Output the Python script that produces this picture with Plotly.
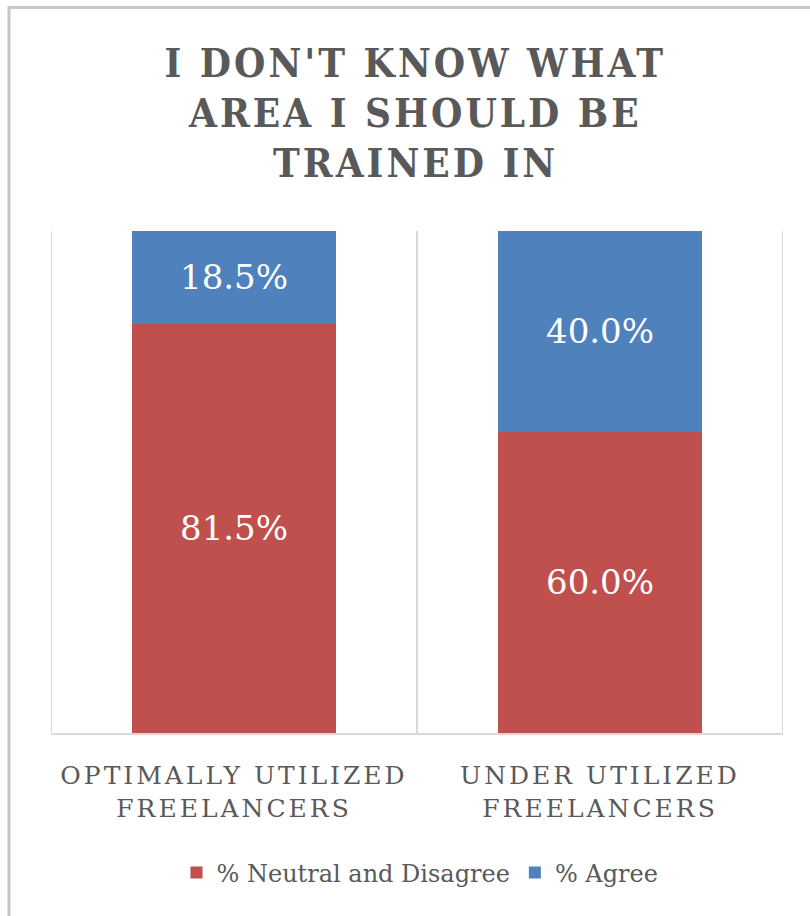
import plotly.graph_objects as go

# Survey responses: "I don't know what area I should be trained in"
categories = ["OPTIMALLY UTILIZED<br>FREELANCERS", "UNDER UTILIZED<br>FREELANCERS"]
neutral_disagree = [81.5, 60.0]
agree = [18.5, 40.0]
title_lines = ["I DON'T KNOW WHAT", "AREA I SHOULD BE", "TRAINED IN"]

RED = "#C0504D"
BLUE = "#4F81BD"
GREY_TEXT = "#595959"
GRID = "#D9D9D9"
SERIF = "DejaVu Serif, Liberation Serif, serif"
SERIF_COND = "DejaVu Serif Condensed, DejaVu Serif, serif"

W, H = 810, 916
M_L, M_R, M_T, M_B = 51, 27, 231, 183
PW, PH = W - M_L - M_R, H - M_T - M_B


def px_x(p):
    return (p - M_L) / PW


def px_y(p):
    return (H - M_B - p) / PH


fig = go.Figure()
for vals, name, color in [(neutral_disagree, "% Neutral and Disagree", RED),
                          (agree, "% Agree", BLUE)]:
    fig.add_trace(go.Bar(
        x=categories, y=vals, name=name,
        marker=dict(color=color, line=dict(width=0)),
        texttemplate="%{y:.1f}%", textposition="inside", insidetextanchor="middle",
        textfont=dict(family=SERIF, size=34, color="white"),
    ))

# Title, one annotation per line for tighter line spacing
for line, yc in zip(title_lines, [62, 112.5, 163]):
    fig.add_annotation(
        text=line, xref="paper", yref="paper", x=px_x(415), y=px_y(yc),
        xanchor="center", yanchor="middle", showarrow=False,
        font=dict(family=SERIF_COND, size=40, color=GREY_TEXT, weight="bold"),
    )

# Category separators at the outer edges of the plot area
for xb in (-0.5, 1.5):
    fig.add_shape(type="line", xref="x", yref="y domain", x0=xb, x1=xb, y0=0, y1=1,
                  line=dict(color=GRID, width=2), layer="below")

# Chart-area frame
fig.add_shape(
    type="rect", xref="paper", yref="paper",
    x0=px_x(9), x1=px_x(840), y0=px_y(950), y1=px_y(7.5),
    line=dict(color="#C8C8C8", width=3), fillcolor="rgba(0,0,0,0)", layer="below",
)

fig.update_layout(
    width=W, height=H,
    margin=dict(l=M_L, r=M_R, t=M_T, b=M_B, pad=0),
    barmode="stack", bargap=0.443,
    paper_bgcolor="white", plot_bgcolor="white",
    showlegend=True,
    legend=dict(
        orientation="h", x=px_x(420), xanchor="center", y=px_y(873), yanchor="middle",
        font=dict(family=SERIF, size=24, color=GREY_TEXT),
        traceorder="normal",
    ),
    xaxis=dict(
        type="category", range=[-0.5, 1.5],
        showline=True, linecolor=GRID, linewidth=2,
        showgrid=True, gridcolor=GRID, gridwidth=2, tickson="boundaries",
        ticks="", ticklabelstandoff=19,
        tickfont=dict(family=SERIF, size=25, color=GREY_TEXT),
        fixedrange=True,
    ),
    yaxis=dict(
        range=[0, 100], showticklabels=False, showgrid=False,
        zeroline=False, showline=False, fixedrange=True,
    ),
)

# Tracked (letter-spaced) lettering for the title and category labels
tracking_js = """
var gd = document.getElementById('{plot_id}');
function applyTracking() {
  gd.querySelectorAll('.xtick text').forEach(function (t) {
    t.setAttribute('letter-spacing', '3px');
  });
  gd.querySelectorAll('.annotation-text').forEach(function (t) {
    t.setAttribute('letter-spacing', '3px');
  });
}
applyTracking();
gd.on('plotly_afterplot', applyTracking);
"""

fig.write_html("out.html", post_script=tracking_js)
